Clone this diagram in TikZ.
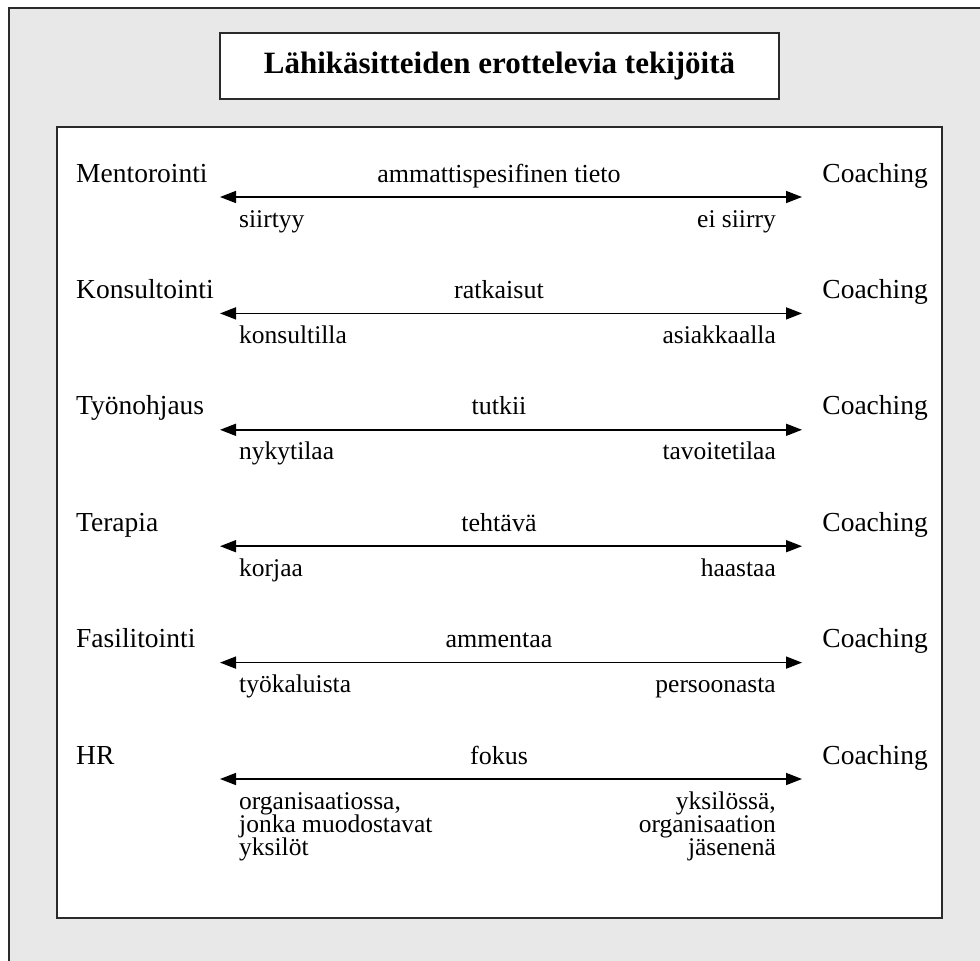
\documentclass[tikz,border=0pt]{standalone}
\usepackage{fontspec}
\setmainfont{Liberation Serif}
\usetikzlibrary{arrows.meta}
\definecolor{panelgray}{HTML}{E8E8E8}
\definecolor{edge}{HTML}{2A2A2A}
% stacked lines with a fixed 23pt line pitch; the baseline is that of the first line
\newcommand\leftlines[1]{\vtop{\baselineskip=23pt\lineskiplimit=-30pt\halign{##\hfil\cr#1\crcr}}}
\newcommand\rightlines[1]{\vtop{\baselineskip=23pt\lineskiplimit=-30pt\halign{\hfil##\cr#1\crcr}}}
\tikzset{
  term/.style={inner sep=0pt, font=\fontsize{27.5}{33}\selectfont},
  topic/.style={inner sep=0pt, font=\fontsize{26}{30}\selectfont},
  side/.style={inner sep=0pt, font=\fontsize{25.5}{23}\selectfont},
  twoway/.style={line width=1.6pt, {Triangle[length=16pt,width=12pt]}-{Triangle[length=16pt,width=12pt]}},
}
\begin{document}
\begin{tikzpicture}[x=1pt,y=-1pt]
\useasboundingbox (0,0) rectangle (980,961);
\clip (0,0) rectangle (980,961);
% outer panel
\draw[edge, line width=1.5pt, fill=panelgray] (9,8) rectangle (990,970);
% title box
\draw[edge, line width=1.5pt, fill=white] (220,33) rectangle (779,99);
\node[inner sep=0pt, font=\fontsize{31}{36}\selectfont\bfseries] (title) at (499.5,66) {Lähikäsitteiden erottelevia tekijöitä};
% content box
\draw[edge, line width=1.8pt, fill=white] (57,127) rectangle (942,918);

% rows: name, topic, left side, right side
\foreach \i/\name/\topic/\lside/\rside in {
  0/Mentorointi/ammattispesifinen tieto/siirtyy/ei siirry,
  1/Konsultointi/ratkaisut/konsultilla/asiakkaalla,
  2/Työnohjaus/tutkii/nykytilaa/tavoitetilaa,
  3/Terapia/tehtävä/korjaa/haastaa,
  4/Fasilitointi/ammentaa/työkaluista/persoonasta,
  5/HR/fokus/{organisaatiossa,\cr jonka muodostavat\cr yksilöt}/{yksilössä,\cr organisaation\cr jäsenenä}} {
  \pgfmathsetmacro{\ay}{197+116.4*\i}
  \node[term, anchor=base west] (n\i) at (76,\ay-15) {\name};
  \node[term, anchor=base east] (c\i) at (928,\ay-15) {Coaching};
  \node[topic, anchor=base] (t\i) at (499,\ay-15) {\topic};
  \coordinate (a\i) at (220,\ay);
  \coordinate (b\i) at (802,\ay);
  \draw[twoway] (a\i) -- (b\i);
  \node[side, anchor=base west] (l\i) at (239,\ay+30) {\leftlines{\lside}};
  \node[side, anchor=base east] (r\i) at (776,\ay+30) {\rightlines{\rside}};
}
\end{tikzpicture}
\end{document}
